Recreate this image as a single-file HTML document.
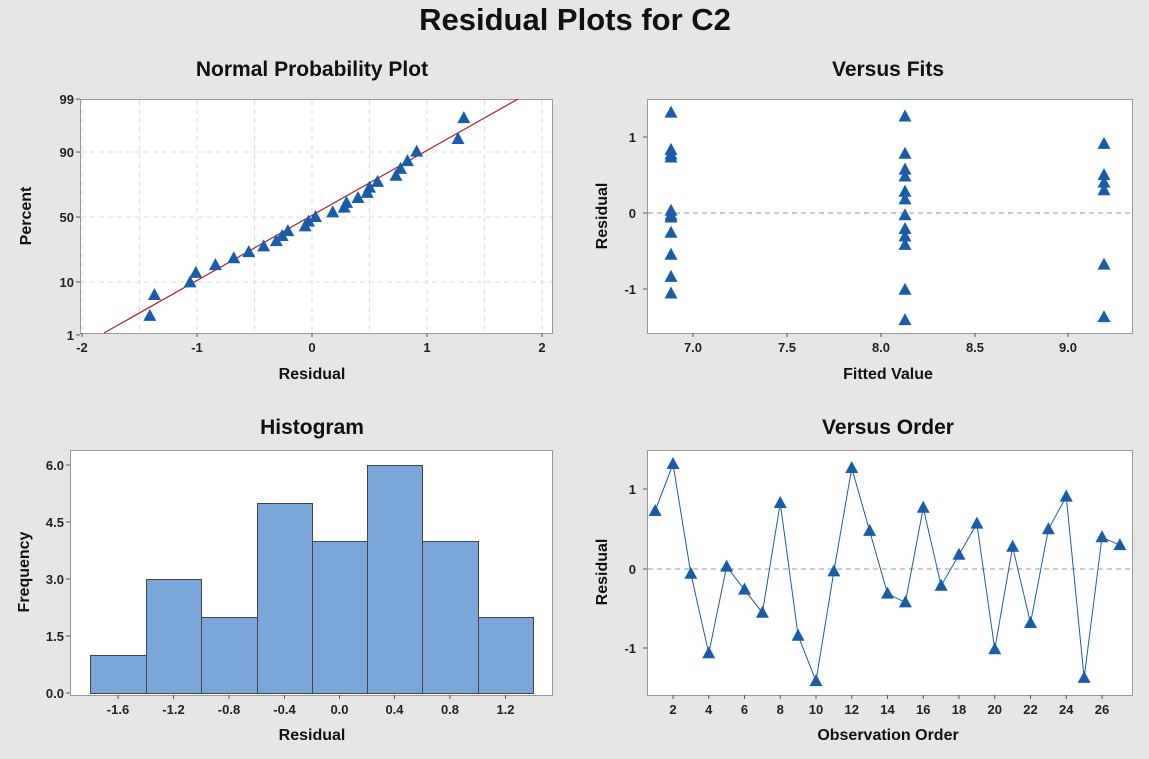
<!DOCTYPE html>
<html><head><meta charset="utf-8">
<style>
body{margin:0;background:#e6e6e6;}
svg{display:block;font-family:"Liberation Sans",sans-serif;}
.t{font-size:21px;font-weight:bold;text-anchor:middle;fill:#111}
.tk{font-size:13px;font-weight:bold;fill:#222}
.al{font-size:16px;font-weight:bold;fill:#111;text-anchor:middle}
</style></head><body>
<svg id="s" width="1149" height="759" xmlns="http://www.w3.org/2000/svg">
<rect width="1149" height="759" fill="#e6e6e6"/>
<text x="575" y="30" style="font-size:31px;font-weight:bold;text-anchor:middle;fill:#111">Residual Plots for C2</text>
<text class="t" x="312" y="76">Normal Probability Plot</text>
<text class="t" x="888" y="76">Versus Fits</text>
<text class="t" x="312" y="434">Histogram</text>
<text class="t" x="888" y="434">Versus Order</text>
<g id="g"></g>
</svg>
<script>
var NS="http://www.w3.org/2000/svg",g=document.getElementById('g'),h='';
function rect(x,y,w,hh,f,s){h+=`<rect x="${x}" y="${y}" width="${w}" height="${hh}" fill="${f}" stroke="${s||'none'}" stroke-width="1"/>`;}
function line(x1,y1,x2,y2,c,d,w){h+=`<line x1="${x1}" y1="${y1}" x2="${x2}" y2="${y2}" stroke="${c}" stroke-width="${w||1}" ${d?'stroke-dasharray="'+d+'"':''}/>`;}
function text(x,y,t,a,cls){h+=`<text class="${cls||'tk'}" x="${x}" y="${y}" text-anchor="${a||'middle'}">${t}</text>`;}
function tri(x,y){h+=`<polygon points="${x},${y-7} ${x-6.5},${y+5} ${x+6.5},${y+5}" fill="#1a5ca8"/>`;}
var r=[0.73,1.32,-0.06,-1.06,0.03,-0.26,-0.55,0.83,-0.84,-1.41,-0.03,1.27,0.48,-0.31,-0.42,0.77,-0.21,0.18,0.57,-1.01,0.28,-0.68,0.50,0.91,-1.37,0.40,0.30];
// Panel 1
rect(80.5,99.5,472,234,'#fff','#999');
[-2,-1.5,-1,-0.5,0,0.5,1,1.5,2].forEach(v=>{var x=312+v*115;line(x,100,x,333,'#ddd','5,4');});
function zinv(p){var a=[-39.696830,220.946098,-275.928510,138.357751,-30.664798,2.506628],b=[-54.476098,161.585836,-155.698979,66.801311,-13.280681],c=[-0.007784894,-0.3223964,-2.400758,-2.549732,4.374664,2.938163],d=[0.007784695,0.3224671,2.445134,3.754408];var q,rr;if(p<0.02425){q=Math.sqrt(-2*Math.log(p));return(((((c[0]*q+c[1])*q+c[2])*q+c[3])*q+c[4])*q+c[5])/((((d[0]*q+d[1])*q+d[2])*q+d[3])*q+1);}if(p>1-0.02425){q=Math.sqrt(-2*Math.log(1-p));return-(((((c[0]*q+c[1])*q+c[2])*q+c[3])*q+c[4])*q+c[5])/((((d[0]*q+d[1])*q+d[2])*q+d[3])*q+1);}q=p-0.5;rr=q*q;return(((((a[0]*rr+a[1])*rr+a[2])*rr+a[3])*rr+a[4])*rr+a[5])*q/(((((b[0]*rr+b[1])*rr+b[2])*rr+b[3])*rr+b[4])*rr+1);}
function py(p){return 217-50.7*zinv(p);}
[[99,0.99],[90,0.9],[50,0.5],[10,0.1],[1,0.01]].forEach(a=>{var y=py(a[1]);if(a[0]!=99&&a[0]!=1)line(81,y,552,y,'#ddd','5,4');text(74,y+5,a[0],'end');line(76,y,80,y,'#555');});
line(104,333,518,99,'#b22222',0,1.2);
var s=r.slice().sort((a,b)=>a-b);s.forEach((v,i)=>{tri(312+v*115,py((i+1-0.3)/(27.4)));});
[-2,-1,0,1,2].forEach(v=>{var x=312+v*115;text(x,352,v);line(x,333,x,337,'#555');});
text(312,379,'Residual','middle','al');
h+=`<text class="al" transform="translate(31,216) rotate(-90)">Percent</text>`;
// Panel 2
rect(647.5,99.5,485,234,'#fff','#999');
line(648,213,1132,213,'#999','5,4');
[[1,137],[0,213],[-1,289]].forEach(a=>{text(636,a[1]+5,a[0],'end');line(643,a[1],647,a[1],'#555');});
[[7.0,693],[7.5,787],[8.0,881],[8.5,975],[9.0,1068]].forEach(a=>{text(a[1],352,a[0].toFixed(1));line(a[1],333,a[1],337,'#555');});
var g1=[1.32,0.83,0.77,0.73,0.03,-0.03,-0.06,-0.26,-0.55,-0.84,-1.06],g2=[1.27,0.78,0.57,0.48,0.28,0.18,-0.03,-0.21,-0.31,-0.42,-1.01,-1.41],g3=[0.91,0.5,0.40,0.30,-0.68,-1.37];
g1.forEach(v=>tri(671,213-76*v));g2.forEach(v=>tri(905,213-76*v));g3.forEach(v=>tri(1104,213-76*v));
text(888,379,'Fitted Value','middle','al');
h+=`<text class="al" transform="translate(607,216) rotate(-90)">Residual</text>`;
// Panel 3
rect(70.5,450.5,482,245,'#fff','#999');
var hv=[1,3,2,5,4,6,4,2],ed=[90,146,201,257,312,367,422,478,533];
hv.forEach((v,i)=>rect(ed[i]+0.5,693.5-38*v,ed[i+1]-ed[i],38*v,'#7ba6d9','#444'));
[[6.0,465],[4.5,522],[3.0,579],[1.5,636],[0.0,693]].forEach(a=>{text(64,a[1]+5,a[0].toFixed(1),'end');line(66,a[1],70,a[1],'#555');});
['-1.6','-1.2','-0.8','-0.4','0.0','0.4','0.8','1.2'].forEach((t,i)=>{var x=(ed[i]+ed[i+1])/2;text(x,714,t);line(x,695,x,699,'#555');});
text(312,740,'Residual','middle','al');
h+=`<text class="al" transform="translate(29,572) rotate(-90)">Frequency</text>`;
// Panel 4
rect(647.5,450.5,485,245,'#fff','#999');
line(648,569,1132,569,'#999','5,4');
[[1,489],[0,569],[-1,648]].forEach(a=>{text(636,a[1]+5,a[0],'end');line(643,a[1],647,a[1],'#555');});
function ox(i){return 673+(i-2)*17.875;}
for(var i=2;i<=26;i+=2){text(ox(i),714,i);line(ox(i),695,ox(i),699,'#555');}
var pts=r.map((v,i)=>ox(i+1)+','+(569-79.5*v)).join(' ');
h+=`<polyline points="${pts}" fill="none" stroke="#1a5ca8" stroke-width="1"/>`;
r.forEach((v,i)=>tri(ox(i+1),569-79.5*v));
text(888,740,'Observation Order','middle','al');
h+=`<text class="al" transform="translate(607,572) rotate(-90)">Residual</text>`;
g.innerHTML=h;
</script>
</body></html>
